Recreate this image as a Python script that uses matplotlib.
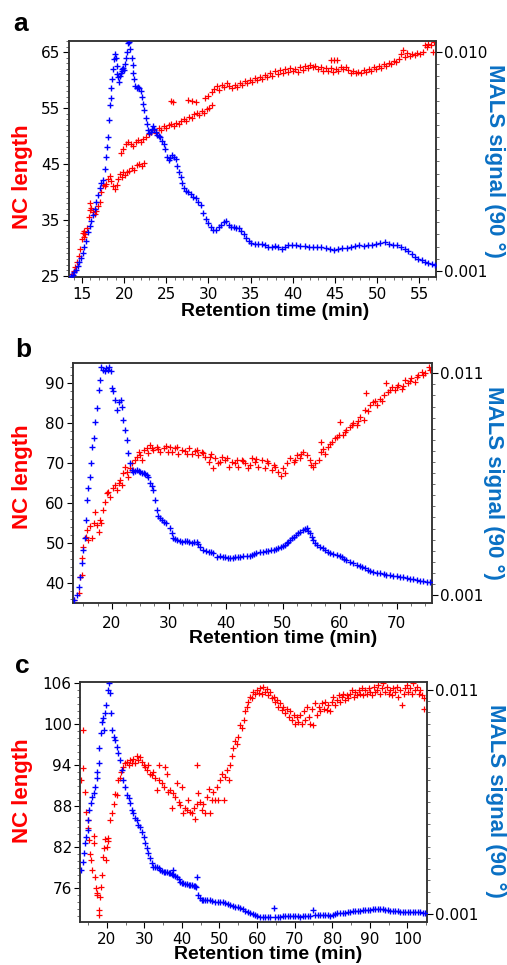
import matplotlib
matplotlib.use('Agg')
import matplotlib.pyplot as plt
import numpy as np
from matplotlib.ticker import MultipleLocator, FixedLocator

# ---- panel a: (retention time, value) readings ----
a_red = [(13.8, 25.3), (14.0, 25.8), (14.2, 26.5), (14.4, 27.5), (14.6, 28.5), (14.8, 29.8), (15.0, 31.5),
         (15.1, 32.6), (15.2, 32.0), (15.3, 33.0), (15.4, 32.4), (15.6, 33.5), (15.8, 35.5), (15.9, 36.8),
         (16.0, 38.0), (16.1, 37.2), (16.3, 36.4), (16.5, 36.0), (16.7, 36.6), (16.9, 37.4), (17.1, 38.2),
         (17.3, 40.0), (17.5, 41.2), (17.7, 41.0), (17.9, 41.5), (18.1, 42.3), (18.3, 42.8), (18.5, 42.0),
         (18.7, 41.0), (18.9, 40.5), (19.1, 41.3), (19.3, 42.4), (19.5, 43.2), (19.7, 42.6), (19.9, 43.5),
         (20.1, 43.0), (20.3, 43.6), (20.6, 43.8), (20.9, 44.2), (21.2, 44.0), (21.5, 44.8), (21.8, 45.0),
         (22.1, 44.6), (22.4, 45.1),
         (19.6, 46.9), (19.9, 47.6), (20.2, 48.6), (20.5, 49.0), (20.8, 48.5), (21.1, 48.2), (21.4, 48.9),
         (21.7, 49.3), (22.0, 48.9), (22.3, 49.5), (22.6, 49.8), (22.9, 50.3), (23.2, 50.8), (23.5, 51.1),
         (23.8, 50.6), (24.1, 51.4), (24.4, 51.0), (24.7, 51.8), (25.0, 51.5), (25.3, 51.9), (25.6, 52.2),
         (25.9, 51.8), (26.2, 52.4), (26.5, 52.1), (26.8, 52.7), (27.1, 53.0), (27.4, 52.6), (27.7, 53.4),
         (28.0, 53.2), (28.3, 53.9), (28.6, 54.2), (28.9, 53.8), (29.2, 54.5), (29.5, 54.1), (29.8, 54.8),
         (30.1, 55.0), (30.4, 55.6),
         (25.6, 56.2), (25.8, 56.0), (27.6, 56.5), (28.0, 56.3), (28.5, 56.0), (29.6, 56.8), (30.0, 57.2),
         (30.4, 57.8), (30.7, 58.4), (31.0, 58.9), (31.3, 58.3), (31.6, 59.2), (31.9, 58.7), (32.2, 59.4),
         (32.5, 58.9), (32.8, 58.6), (33.1, 59.1), (33.4, 58.8), (33.7, 59.5), (34.0, 59.2), (34.3, 59.8),
         (34.6, 59.4), (34.9, 60.1), (35.2, 59.7), (35.5, 60.3), (35.8, 60.0), (36.1, 60.6), (36.4, 60.2),
         (36.7, 60.9), (37.0, 60.5), (37.3, 61.3), (37.6, 60.8), (37.9, 61.6), (38.2, 61.1), (38.5, 61.8),
         (38.8, 61.3), (39.1, 62.0), (39.4, 61.5), (39.7, 62.2), (40.0, 61.7), (40.3, 62.0), (40.6, 61.4),
         (40.9, 62.3), (41.2, 61.8), (41.5, 62.5), (41.8, 62.1), (42.1, 62.7), (42.4, 62.3), (42.7, 62.6),
         (43.0, 61.9), (43.3, 62.4), (43.6, 61.7), (43.9, 62.2), (44.2, 61.6), (44.5, 62.1), (44.8, 61.5),
         (44.5, 63.6), (44.9, 63.6), (45.3, 63.6), (45.1, 62.0), (45.4, 61.7), (45.7, 62.3), (46.0, 61.9),
         (46.3, 62.4), (46.6, 61.8), (46.9, 61.3), (47.2, 61.6), (47.5, 61.2), (47.8, 61.5), (48.1, 61.3),
         (48.4, 61.8), (48.7, 61.4), (49.0, 62.0), (49.3, 61.7), (49.6, 62.3), (49.9, 62.0), (50.2, 62.6),
         (50.5, 62.2), (50.8, 62.8), (51.1, 62.5), (51.4, 63.1), (51.7, 62.8), (52.0, 63.4), (52.3, 63.2),
         (52.6, 63.8), (52.9, 64.6), (53.1, 65.3), (53.3, 64.2), (53.6, 64.8), (53.9, 64.3), (54.2, 64.7),
         (54.5, 64.5), (54.8, 64.9), (55.1, 64.6), (55.4, 65.1), (55.7, 66.2), (55.9, 66.0), (56.1, 66.5),
         (56.4, 66.2), (56.6, 65.1), (56.8, 66.8)]

a_blue = [(13.7, 0.00080), (13.9, 0.00085), (14.1, 0.00095), (14.3, 0.00105), (14.5, 0.00120),
          (14.7, 0.00135), (14.9, 0.00155), (15.1, 0.00175), (15.3, 0.00200), (15.5, 0.00225),
          (15.7, 0.00260), (15.9, 0.00285), (16.1, 0.00305), (16.3, 0.00330), (16.5, 0.00355),
          (16.7, 0.00385), (16.9, 0.00410), (17.1, 0.00440), (17.3, 0.00460), (17.5, 0.00475),
          (17.7, 0.00520), (17.85, 0.00570), (18.0, 0.00610), (18.1, 0.00650), (18.2, 0.00720),
          (18.3, 0.00780), (18.4, 0.00810), (18.5, 0.00850), (18.6, 0.00890), (18.7, 0.00930),
          (18.8, 0.00970), (18.9, 0.00990), (19.0, 0.00975), (19.1, 0.00940), (19.2, 0.00910),
          (19.3, 0.00895), (19.4, 0.00875), (19.5, 0.00900), (19.6, 0.00915), (19.7, 0.00930),
          (19.8, 0.00920), (19.9, 0.00935), (20.0, 0.00925), (20.1, 0.00950), (20.2, 0.00975),
          (20.3, 0.01000), (20.45, 0.01035), (20.6, 0.01040), (20.75, 0.01010), (20.9, 0.00975),
          (21.0, 0.00945), (21.1, 0.00915), (21.2, 0.00890), (21.35, 0.00860), (21.5, 0.00850),
          (21.65, 0.00855), (21.8, 0.00850), (21.95, 0.00840), (22.1, 0.00815), (22.25, 0.00785),
          (22.4, 0.00760), (22.55, 0.00730), (22.7, 0.00705), (22.85, 0.00680), (23.0, 0.00665),
          (23.15, 0.00670), (23.3, 0.00685), (23.45, 0.00695), (23.6, 0.00685), (23.75, 0.00670),
          (23.9, 0.00660), (24.1, 0.00655), (24.3, 0.00650), (24.5, 0.00635), (24.7, 0.00620),
          (24.9, 0.00600), (25.1, 0.00570), (25.3, 0.00555), (25.5, 0.00565), (25.7, 0.00575),
          (25.9, 0.00570), (26.1, 0.00560), (26.3, 0.00530), (26.5, 0.00505), (26.7, 0.00485),
          (26.9, 0.00460), (27.1, 0.00440), (27.3, 0.00430), (27.6, 0.00425), (27.9, 0.00415),
          (28.2, 0.00405), (28.5, 0.00400), (28.8, 0.00385), (29.1, 0.00370), (29.4, 0.00340),
          (29.7, 0.00315), (30.0, 0.00295), (30.3, 0.00280), (30.6, 0.00270), (30.9, 0.00270),
          (31.2, 0.00280), (31.5, 0.00290), (31.8, 0.00300), (32.1, 0.00305), (32.4, 0.00290),
          (32.7, 0.00280), (33.0, 0.00280), (33.3, 0.00275), (33.6, 0.00275), (33.9, 0.00265),
          (34.2, 0.00250), (34.5, 0.00235), (34.8, 0.00225), (35.1, 0.00215), (35.5, 0.00212),
          (35.9, 0.00210), (36.3, 0.00212), (36.7, 0.00207), (37.1, 0.00200), (37.5, 0.00198),
          (37.9, 0.00203), (38.3, 0.00198), (38.7, 0.00192), (39.1, 0.00198), (39.5, 0.00205),
          (39.9, 0.00207), (40.4, 0.00205), (40.9, 0.00203), (41.4, 0.00201), (41.9, 0.00199),
          (42.4, 0.00200), (42.9, 0.00200), (43.4, 0.00199), (43.9, 0.00195), (44.4, 0.00190),
          (44.9, 0.00188), (45.4, 0.00190), (45.9, 0.00194), (46.4, 0.00195), (46.9, 0.00198),
          (47.4, 0.00204), (47.9, 0.00206), (48.4, 0.00203), (48.9, 0.00205), (49.4, 0.00208),
          (49.9, 0.00212), (50.4, 0.00215), (50.9, 0.00218), (51.4, 0.00212), (51.9, 0.00208),
          (52.4, 0.00205), (52.9, 0.00200), (53.3, 0.00192), (53.7, 0.00180), (54.1, 0.00168),
          (54.5, 0.00157), (54.9, 0.00150), (55.3, 0.00144), (55.7, 0.00138), (56.1, 0.00133),
          (56.5, 0.00128), (56.9, 0.00124)]

# ---- panel b ----
b_red = [(13.4, 35.7), (14.2, 37.3), (14.4, 41.5), (14.7, 41.9), (14.7, 46.1), (15.0, 49.0), (15.5, 51.5),
         (15.7, 53.2), (15.9, 50.7), (16.2, 54.1), (16.5, 51.2), (16.8, 54.9), (17.1, 57.8), (17.4, 54.5),
         (17.7, 52.8), (18.0, 55.7), (18.2, 54.9), (18.5, 58.2), (18.8, 60.3), (19.1, 62.4), (19.4, 62.8),
         (19.7, 61.6), (20.3, 63.7), (20.6, 64.5), (20.9, 63.2), (21.2, 64.9), (21.5, 65.8), (21.8, 64.5),
         (22.0, 67.4), (22.3, 69.1), (22.6, 67.8), (22.9, 66.6), (23.2, 68.7), (23.5, 69.9), (23.8, 68.2),
         (24.1, 70.8), (24.4, 71.6), (24.7, 72.9), (25.0, 72.0), (25.3, 70.8), (25.6, 73.3), (26.1, 73.7),
         (26.7, 74.5), (27.3, 73.3), (27.9, 74.1), (28.5, 72.9), (29.1, 73.7), (29.6, 74.3), (30.2, 74.1),
         (30.5, 72.9), (31.1, 73.7), (31.7, 72.4), (32.3, 73.2), (32.9, 73.1), (33.5, 73.7), (34.0, 72.4),
         (34.6, 73.1), (35.2, 72.0), (35.8, 72.9), (36.4, 71.6), (37.0, 70.4), (37.5, 72.4), (38.1, 71.2),
         (38.7, 69.9), (37.8, 68.7), (39.3, 71.6), (39.9, 70.8), (40.5, 69.1), (41.1, 70.4), (41.6, 69.9),
         (42.2, 69.1), (42.8, 70.8), (43.4, 69.9), (44.0, 68.7), (44.6, 71.2), (45.1, 70.4), (45.7, 69.1),
         (46.3, 70.8), (46.9, 68.7), (47.5, 69.9), (48.1, 68.2), (48.7, 69.1), (49.2, 67.8), (49.7, 66.8),
         (50.1, 68.7), (50.7, 69.9), (51.3, 71.2), (51.9, 70.4), (52.5, 72.0), (53.0, 71.2), (53.6, 72.9),
         (54.2, 72.0), (54.8, 70.8), (55.3, 69.1), (55.7, 69.9), (56.3, 70.8), (56.8, 72.9), (56.8, 75.4),
         (57.4, 72.4), (58.0, 74.1), (58.6, 75.4), (59.2, 76.2), (59.8, 77.0), (60.1, 80.4), (60.6, 77.0),
         (61.2, 78.3), (61.8, 79.1), (62.4, 80.0), (63.0, 79.5), (63.6, 81.6), (64.2, 80.8), (64.4, 83.3),
         (64.7, 87.5), (65.3, 84.6), (65.9, 85.4), (66.5, 84.6), (67.1, 86.2), (67.7, 87.1), (68.2, 90.0),
         (68.5, 87.9), (69.1, 89.2), (69.7, 88.3), (70.3, 89.6), (70.9, 88.7), (71.5, 90.8), (72.0, 90.0),
         (72.6, 91.3), (73.2, 90.4), (73.8, 92.1), (74.4, 92.9), (75.0, 92.5), (75.6, 94.2), (75.8, 93.3),
         (26.4, 72.6), (27.0, 73.9), (28.2, 73.5), (29.9, 72.8), (31.4, 74.0), (33.2, 72.2), (34.9, 73.4),
         (36.1, 72.5), (37.3, 71.5), (39.0, 70.2), (40.2, 71.3), (41.9, 70.9), (43.1, 70.6), (44.3, 69.5),
         (45.4, 71.0), (47.2, 70.5), (48.4, 69.5), (50.4, 67.5), (52.2, 70.9), (53.3, 72.2), (55.0, 69.5),
         (57.1, 73.6), (58.3, 74.8), (59.5, 76.6), (60.9, 77.8), (62.1, 79.6), (63.3, 80.6), (64.9, 83.0),
         (66.2, 85.6), (67.4, 85.5), (68.8, 88.4), (70.0, 89.0), (71.2, 89.4), (72.3, 90.6), (73.5, 91.5),
         (74.7, 92.0)]

b_blue = [(13.4, 0.00077), (13.9, 0.00100), (14.2, 0.00138), (14.4, 0.00183), (14.7, 0.00243),
          (15.0, 0.00303), (15.3, 0.00356), (15.5, 0.00438), (15.7, 0.00529), (15.9, 0.00581),
          (16.1, 0.00634), (16.3, 0.00694), (16.5, 0.00769), (16.8, 0.00807), (17.1, 0.00882),
          (17.4, 0.00942), (17.7, 0.01025), (18.0, 0.01070), (18.2, 0.01130), (18.5, 0.01115),
          (18.8, 0.01110), (19.0, 0.01125), (19.3, 0.01115), (19.6, 0.01130), (19.8, 0.01110),
          (20.0, 0.01032), (20.3, 0.01020), (20.6, 0.00980), (20.9, 0.00935), (21.2, 0.00970),
          (21.6, 0.00980), (21.8, 0.00950), (22.0, 0.00890), (22.3, 0.00844), (22.6, 0.00800),
          (22.9, 0.00739), (23.2, 0.00694), (23.5, 0.00664), (23.8, 0.00656), (24.1, 0.00660),
          (24.4, 0.00664), (24.7, 0.00660), (25.0, 0.00656), (25.3, 0.00652), (25.6, 0.00649),
          (25.9, 0.00645), (26.1, 0.00641), (26.4, 0.00634), (26.7, 0.00604), (27.0, 0.00590),
          (27.3, 0.00574), (27.6, 0.00529), (27.9, 0.00483), (28.2, 0.00455), (28.4, 0.00446),
          (28.8, 0.00438), (29.1, 0.00431), (29.6, 0.00423), (30.2, 0.00401), (30.5, 0.00378),
          (30.8, 0.00356), (31.1, 0.00352), (31.4, 0.00348), (31.9, 0.00344), (32.3, 0.00341),
          (32.8, 0.00343), (33.2, 0.00345), (33.6, 0.00340), (34.0, 0.00336), (34.5, 0.00339),
          (34.9, 0.00341), (35.2, 0.00330), (35.5, 0.00318), (36.1, 0.00303), (36.6, 0.00300),
          (37.0, 0.00296), (37.4, 0.00292), (37.8, 0.00288), (38.4, 0.00273), (39.0, 0.00276),
          (39.5, 0.00273), (39.9, 0.00270), (40.4, 0.00267), (40.8, 0.00265), (41.2, 0.00268),
          (41.6, 0.00270), (42.1, 0.00272), (42.5, 0.00273), (43.1, 0.00275), (43.7, 0.00276),
          (44.2, 0.00278), (44.6, 0.00280), (45.0, 0.00284), (45.4, 0.00288), (46.0, 0.00292),
          (46.6, 0.00296), (47.0, 0.00298), (47.5, 0.00300), (48.0, 0.00302), (48.4, 0.00303),
          (48.8, 0.00307), (49.2, 0.00311), (49.7, 0.00316), (50.1, 0.00321), (50.4, 0.00327),
          (50.7, 0.00333), (51.0, 0.00340), (51.3, 0.00348), (51.6, 0.00356), (51.9, 0.00363),
          (52.3, 0.00370), (52.7, 0.00378), (53.1, 0.00386), (53.6, 0.00393), (53.9, 0.00398),
          (54.2, 0.00401), (54.5, 0.00390), (54.8, 0.00378), (55.1, 0.00362), (55.4, 0.00348),
          (55.7, 0.00336), (56.0, 0.00326), (56.5, 0.00318), (57.0, 0.00310), (57.4, 0.00303),
          (57.9, 0.00295), (58.3, 0.00288), (58.9, 0.00284), (59.5, 0.00280), (60.0, 0.00275),
          (60.4, 0.00270), (60.8, 0.00264), (61.2, 0.00258), (61.8, 0.00250), (62.4, 0.00243),
          (63.0, 0.00237), (63.6, 0.00231), (64.0, 0.00225), (64.4, 0.00220), (64.9, 0.00215),
          (65.3, 0.00210), (65.9, 0.00205), (66.5, 0.00201), (67.1, 0.00198), (67.7, 0.00195),
          (68.2, 0.00192), (68.8, 0.00190), (69.4, 0.00188), (70.0, 0.00186), (70.6, 0.00183),
          (71.2, 0.00180), (71.8, 0.00177), (72.3, 0.00174), (72.9, 0.00171), (73.5, 0.00168),
          (74.1, 0.00165), (74.7, 0.00163), (75.3, 0.00160), (75.8, 0.00157)]

# ---- panel c ----
c_red = [(13.2, 91.9), (13.6, 93.6), (13.8, 99.2), (14.2, 90.1), (14.5, 87.2), (14.9, 86.0), (15.1, 84.8),
         (15.4, 83.1), (15.6, 81.1), (15.7, 80.1), (16.0, 78.7), (16.5, 82.6), (16.7, 83.6), (16.9, 77.7),
         (17.2, 76.0), (17.3, 75.3), (17.5, 75.0), (17.8, 72.8), (18.0, 72.1), (18.2, 74.7), (18.5, 76.2),
         (18.7, 77.9), (18.9, 80.6), (19.3, 81.9), (19.6, 83.3), (19.8, 80.1), (20.0, 82.1), (20.3, 83.4),
         (20.4, 83.0), (20.9, 86.0), (21.3, 87.0), (21.8, 88.4), (22.2, 89.8), (22.7, 89.7), (23.1, 91.9),
         (23.5, 92.2), (23.7, 93.1), (24.3, 93.8), (24.9, 94.3), (25.3, 94.5), (25.8, 94.0), (26.2, 94.8),
         (26.7, 94.3), (27.1, 95.0), (27.5, 94.4), (28.0, 95.3), (28.4, 94.8), (28.9, 95.2), (29.3, 94.5),
         (29.8, 94.0), (30.2, 93.8), (30.6, 93.3), (31.1, 94.0), (31.5, 92.8), (32.0, 92.6), (32.4, 93.1),
         (32.9, 92.1), (33.3, 90.4), (33.8, 94.0), (34.0, 91.9), (34.6, 91.4), (35.1, 90.9), (35.5, 93.8),
         (36.0, 92.8), (36.4, 90.1), (36.9, 90.4), (37.3, 87.7), (37.7, 89.9), (38.2, 89.4), (38.6, 91.4),
         (39.1, 88.7), (39.5, 88.2), (40.0, 90.9), (40.4, 87.0), (40.9, 87.7), (41.3, 87.5), (41.7, 88.9),
         (42.2, 87.2), (42.6, 87.0), (43.1, 87.7), (43.5, 86.2), (44.0, 94.0), (44.1, 88.4), (44.4, 89.9),
         (44.8, 88.7), (45.3, 87.5), (45.7, 88.4), (46.2, 87.0), (46.6, 89.4), (47.1, 90.6), (47.5, 87.0),
         (48.0, 88.9), (48.4, 90.1), (48.8, 88.9), (49.3, 90.9), (49.7, 88.9), (50.2, 91.9), (50.6, 92.8),
         (51.1, 88.9), (51.5, 92.3), (52.0, 93.3), (52.4, 91.9), (52.8, 94.0), (53.3, 95.3), (53.7, 96.5),
         (54.2, 97.5), (54.6, 97.2), (55.0, 98.2), (55.5, 99.9), (56.0, 99.4), (56.4, 100.6), (56.8, 101.9),
         (57.3, 102.6), (57.7, 103.3), (58.2, 104.0), (58.6, 103.8), (59.0, 104.8), (59.5, 104.5),
         (59.9, 105.0), (60.4, 104.6), (60.8, 105.3), (61.3, 104.5), (61.7, 105.5), (62.1, 104.8),
         (62.6, 105.1), (63.0, 104.3), (63.5, 104.8), (63.9, 103.8), (64.4, 104.0), (64.8, 103.3),
         (65.3, 103.6), (65.7, 102.6), (66.1, 103.1), (66.6, 102.1), (67.0, 102.6), (67.5, 101.6),
         (67.9, 102.3), (68.4, 101.1), (68.8, 101.9), (69.3, 100.6), (69.7, 101.4), (70.1, 100.1),
         (70.6, 101.1), (71.0, 100.4), (71.5, 101.4), (71.9, 100.1), (72.4, 101.9), (72.8, 100.6),
         (73.3, 102.6), (73.7, 101.1), (74.1, 100.1), (74.6, 102.3), (75.0, 99.9), (75.5, 103.1),
         (75.9, 101.4), (76.4, 102.6), (76.8, 101.9), (77.3, 103.1), (77.7, 102.3), (78.2, 103.3),
         (78.6, 102.1), (79.0, 102.8), (79.5, 101.9), (79.9, 103.3), (80.3, 104.0), (80.8, 102.8),
         (81.2, 103.6), (81.7, 104.3), (82.1, 103.3), (82.6, 104.0), (83.0, 104.5), (83.4, 103.6),
         (83.9, 104.3), (84.3, 103.8), (84.8, 104.5), (85.2, 105.0), (85.7, 104.0), (86.1, 104.8),
         (86.5, 104.3), (87.0, 105.0), (87.4, 104.5), (87.9, 105.3), (88.3, 104.3), (88.8, 105.0),
         (89.2, 104.5), (89.7, 105.3), (90.1, 104.8), (90.5, 104.3), (91.0, 105.5), (91.4, 104.8),
         (91.9, 105.0), (92.3, 105.8), (92.8, 104.5), (93.2, 105.3), (93.6, 106.0), (94.1, 104.8),
         (94.5, 105.5), (95.0, 104.5), (95.4, 105.0), (95.9, 104.3), (96.3, 105.3), (96.8, 104.8),
         (97.2, 105.5), (97.6, 104.0), (98.1, 105.0), (98.5, 102.8), (99.0, 104.5), (99.4, 105.3),
         (99.9, 105.8), (100.3, 104.8), (100.7, 105.3), (101.2, 104.5), (101.6, 106.0), (102.1, 105.0),
         (102.5, 105.5), (103.0, 104.5), (103.4, 105.0), (103.8, 104.3), (104.3, 103.8), (104.5, 102.3)]

c_blue = [(13.1, 0.00296), (13.6, 0.00334), (14.0, 0.00371), (14.2, 0.00416), (14.5, 0.00445),
          (14.9, 0.00475), (15.1, 0.00520), (15.4, 0.00564), (15.7, 0.00594), (16.1, 0.00624),
          (16.5, 0.00639), (16.9, 0.00668), (17.3, 0.00706), (17.5, 0.00735), (17.8, 0.00773),
          (18.0, 0.00840), (18.4, 0.00907), (18.7, 0.00959), (18.9, 0.00974), (19.3, 0.00921),
          (19.6, 0.00996), (19.8, 0.01033), (20.2, 0.01100), (20.5, 0.01130), (20.9, 0.01085),
          (21.1, 0.00996), (21.4, 0.00921), (21.8, 0.00892), (22.2, 0.00877), (22.7, 0.00847),
          (23.1, 0.00817), (23.5, 0.00787), (24.0, 0.00743), (24.4, 0.00698), (24.9, 0.00668),
          (25.3, 0.00631), (25.8, 0.00616), (26.2, 0.00594), (26.7, 0.00564), (27.1, 0.00549),
          (27.5, 0.00527), (28.0, 0.00520), (28.4, 0.00497), (28.9, 0.00490), (29.3, 0.00468),
          (29.8, 0.00445), (30.2, 0.00416), (30.6, 0.00393), (31.1, 0.00371), (31.5, 0.00349),
          (32.0, 0.00326), (32.4, 0.00311), (32.9, 0.00311), (33.3, 0.00311), (33.8, 0.00303),
          (34.2, 0.00296), (34.7, 0.00292), (35.1, 0.00289), (35.6, 0.00287), (36.0, 0.00285),
          (36.5, 0.00283), (36.9, 0.00282), (37.3, 0.00278), (37.6, 0.00296), (37.7, 0.00274),
          (38.2, 0.00270), (38.6, 0.00264), (39.1, 0.00254), (39.5, 0.00244), (40.0, 0.00240),
          (40.4, 0.00237), (40.9, 0.00234), (41.3, 0.00232), (41.8, 0.00231), (42.2, 0.00230),
          (42.7, 0.00227), (43.1, 0.00225), (43.5, 0.00223), (43.8, 0.00222), (44.1, 0.00267),
          (44.4, 0.00185), (44.8, 0.00170), (45.3, 0.00162), (45.7, 0.00161), (46.2, 0.00160),
          (46.8, 0.00160), (47.5, 0.00160), (48.1, 0.00158), (48.8, 0.00155), (49.5, 0.00155),
          (50.2, 0.00155), (50.8, 0.00152), (51.5, 0.00148), (52.2, 0.00144), (52.8, 0.00140),
          (53.5, 0.00137), (54.2, 0.00133), (54.8, 0.00129), (55.5, 0.00125), (56.2, 0.00120),
          (56.8, 0.00115), (57.5, 0.00109), (58.2, 0.00103), (58.8, 0.00100), (59.5, 0.00096),
          (60.1, 0.00092), (60.8, 0.00088), (61.5, 0.00086), (62.1, 0.00084), (62.8, 0.00084),
          (63.5, 0.00084), (64.5, 0.00125), (64.8, 0.00088), (65.5, 0.00088), (66.1, 0.00088),
          (66.8, 0.00090), (67.5, 0.00091), (68.1, 0.00091), (68.8, 0.00091), (69.5, 0.00091),
          (70.1, 0.00091), (70.8, 0.00090), (71.5, 0.00088), (72.1, 0.00090), (72.8, 0.00091),
          (73.5, 0.00091), (74.1, 0.00091), (74.9, 0.00118), (75.5, 0.00093), (76.1, 0.00094),
          (76.8, 0.00096), (77.5, 0.00096), (78.1, 0.00096), (78.8, 0.00094), (79.4, 0.00091),
          (80.1, 0.00097), (80.8, 0.00100), (81.4, 0.00102), (82.1, 0.00103), (82.8, 0.00105),
          (83.4, 0.00106), (84.1, 0.00108), (84.8, 0.00110), (85.4, 0.00112), (86.1, 0.00113),
          (86.8, 0.00114), (87.4, 0.00115), (88.1, 0.00117), (88.8, 0.00118), (89.4, 0.00118),
          (90.1, 0.00118), (90.8, 0.00120), (91.4, 0.00121), (92.1, 0.00121), (92.8, 0.00121),
          (93.4, 0.00120), (94.1, 0.00118), (94.8, 0.00116), (95.4, 0.00115), (96.1, 0.00114),
          (96.8, 0.00113), (97.4, 0.00112), (98.1, 0.00110), (98.8, 0.00110), (99.4, 0.00110),
          (100.1, 0.00110), (100.7, 0.00110), (101.4, 0.00108), (102.1, 0.00107), (102.7, 0.00107),
          (103.4, 0.00107), (104.1, 0.00106), (104.7, 0.00106)]

RED = '#ff0000'
BLUE = '#0000ff'
LABEL_BLUE = '#0a70c4'
SPINE = '#333333'


def draw_panel(ax, red, blue, xlim, ylim, slim, yticks, yminor, xmajor, xminor, sticks, slabels, xpad):
    rx, ry = np.array(red).T
    bx, by = np.array(blue).T
    ax.scatter(rx, ry, marker='+', s=20, linewidths=0.9, color=RED, zorder=2)
    ax.set_xlim(*xlim)
    ax.set_ylim(*ylim)
    ax.yaxis.set_major_locator(FixedLocator(yticks))
    ax.yaxis.set_minor_locator(MultipleLocator(yminor))
    ax.xaxis.set_major_locator(MultipleLocator(xmajor))
    ax.xaxis.set_minor_locator(MultipleLocator(xminor))

    ax2 = ax.twinx()
    ax2.scatter(bx, by, marker='+', s=20, linewidths=1.0, color=BLUE, zorder=3)
    ax2.set_ylim(*slim)
    ax2.set_yticks(sticks)
    ax2.set_yticklabels(slabels)
    ax2.yaxis.set_minor_locator(MultipleLocator(0.0005))

    for a in (ax, ax2):
        for sp in a.spines.values():
            sp.set_color(SPINE)
            sp.set_linewidth(1.1)
        a.tick_params(which='major', direction='out', length=4, width=0.8,
                      labelsize=11, colors='black')
        a.tick_params(which='minor', direction='out', length=2, width=0.6, color='#555555')
    ax.tick_params(axis='y', pad=2)
    ax.tick_params(axis='x', pad=xpad)
    ax2.tick_params(axis='y', pad=2)
    return ax2


fig = plt.figure(figsize=(5.07, 9.65), dpi=100)

ax_a = fig.add_axes([0.136, 0.713, 0.724, 0.2446])
draw_panel(ax_a, a_red, a_blue, (13.46, 57.0), (24.8, 67.0), (0.000753, 0.01045),
           [25, 35, 45, 55, 65], 1, 5, 1, [0.001, 0.010], ['0.001', '0.010'], 3)

ax_b = fig.add_axes([0.144, 0.3751, 0.708, 0.2487])
draw_panel(ax_b, b_red, b_blue, (13.2, 76.2), (34.9, 95.1), (0.00064, 0.01146),
           [40, 50, 60, 70, 80, 90], 2, 10, 2.5, [0.001, 0.011], ['0.001', '0.011'], 5)

ax_c = fig.add_axes([0.158, 0.0446, 0.684, 0.2487])
draw_panel(ax_c, c_red, c_blue, (12.9, 105.2), (71.1, 106.2), (0.00064, 0.01136),
           [76, 82, 88, 94, 100, 106], 1, 10, 5, [0.001, 0.011], ['0.001', '0.011'], 3)

lab_font = dict(family='Liberation Sans', weight='bold')
label_pos = [
    # letter, letter pos, NC length pos, MALS pos, xlabel pos
    ('a', (0.041, 0.975), (0.0444, 0.8166), (0.976, 0.8334), (0.5424, 0.6770)),
    ('b', (0.046, 0.6378), (0.0444, 0.5057), (0.974, 0.500), (0.558, 0.3380)),
    ('c', (0.0444, 0.310), (0.0444, 0.181), (0.978, 0.170), (0.5286, 0.0110)),
]
for letter, lp, npos, mpos, xpos in label_pos:
    fig.text(*lp, letter, fontsize=19, ha='center', va='center', **lab_font)
    fig.text(*npos, 'NC length', fontsize=16, color=RED, rotation=90,
             ha='center', va='center', **lab_font)
    fig.text(*mpos, 'MALS signal (90 °)', fontsize=16, color=LABEL_BLUE, rotation=-90,
             ha='center', va='center', **lab_font)
    fig.text(*xpos, 'Retention time (min)', fontsize=14, ha='center', va='center', **lab_font)

fig.savefig('out.png', dpi=100)
